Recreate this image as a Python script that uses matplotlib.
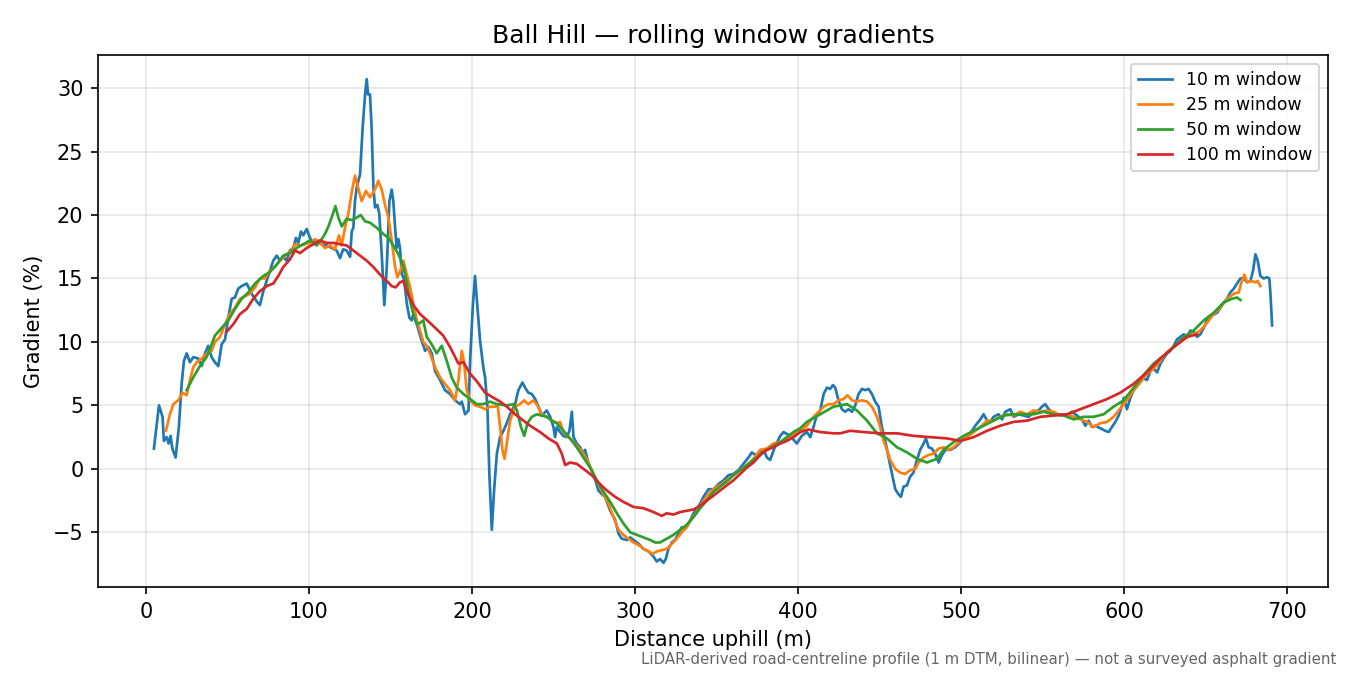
import matplotlib
matplotlib.use("Agg")
import matplotlib.pyplot as plt

# ---- data ----
x10 = [4.9, 8, 10.2, 11, 12.7, 13.9, 15.1, 16.2, 18.2, 20.2, 21.9, 23.3, 25, 27, 29, 32, 34.2, 36.2, 38.2,
       40.3, 42.3, 44.4, 46.4, 48.5, 50.5, 52.6, 54.6, 56.6, 58.7, 61.8, 64.8, 67.9, 69.9, 72, 74, 76, 78.1,
       80.2, 82.2, 84.2, 86.3, 88.3, 90.4, 92, 93.4, 95.1, 96.5, 98.6, 100.6, 102.6, 104.7, 107.8, 110.9,
       113.9, 117, 119, 121, 123.1, 125.2, 126.2, 127.2, 128.2, 129.3, 131.3, 132.9, 134.4, 135.4, 136.2,
       137.4, 138.4, 139.5, 140.5, 141.9, 143.1, 144.6, 146.2, 147.7, 149.3, 150.7, 151.7, 152.8, 153.8,
       154.8, 155.8, 156.9, 157.9, 158.9, 160, 161.6, 163, 164, 166.1, 169.1, 171.2, 173.2, 175.3, 177.3,
       180.4, 183.4, 186.5, 189.6, 192.6, 193.7, 195.7, 197.8, 198.8, 200.4, 201.8, 203.3, 204.9, 206.9,
       208, 209.4, 210.6, 212.1, 213.5, 215.2, 217.2, 219.2, 221.3, 223.3, 226.4, 228.4, 230.9, 232.5,
       234.5, 236.6, 238.7, 240.7, 242.8, 245.8, 247.9, 249.9, 250.9, 252, 254, 256, 258.1, 259.7, 261.2,
       262.2, 264.2, 266.3, 267.9, 269.3, 271.4, 274.4, 277.5, 279.6, 281.6, 284.7, 287.7, 289.8, 291.8,
       294.9, 297, 299, 302.1, 305.1, 308.2, 311.2, 313.3, 315.3, 317.4, 318.8, 320.4, 322.5, 324.5,
       326.6, 328.6, 330.7, 332.8, 335.8, 338.8, 341.9, 345, 348.1, 351.1, 354.2, 357.2, 360.3, 363.4,
       366.4, 369.5, 371.6, 373.6, 376.7, 378.7, 380.8, 382.8, 385.9, 389, 391, 395.1, 399.2, 402.2,
       405.3, 407.4, 409.4, 411.5, 413.5, 415.6, 417.6, 419.6, 421.3, 422.7, 424.7, 426.8, 428.8, 430.9,
       433, 435, 437, 439.1, 441.1, 443.1, 445.2, 447.2, 449.3, 451.3, 453.4, 455.4, 457.5, 459.5, 461.5,
       463, 464.6, 466.7, 468.7, 470.7, 472.8, 474.8, 476.9, 478.3, 480, 482, 484, 486.1, 488.2, 490.2,
       493.3, 496.3, 499.4, 502.5, 505.5, 508.6, 511.7, 513.7, 515.8, 517.8, 519.8, 522.9, 525, 527,
       530.1, 532.1, 535.2, 538.2, 541.3, 544.4, 547.4, 549.5, 551.5, 553.6, 555.6, 558.7, 561.8, 564.8,
       567.9, 571, 574, 576.1, 578.1, 580.2, 582.2, 585.3, 588.3, 590.4, 592.4, 594.5, 596.5, 598.6,
       599.6, 601.6, 603.7, 605.7, 608.8, 610.8, 613.9, 616, 618, 620.1, 622.1, 624.1, 626.2, 628.2,
       630.3, 632.3, 634.4, 636.4, 638.5, 640.5, 642.5, 644.6, 646.6, 648.7, 650.7, 653.8, 656.9, 658.9,
       660.9, 663, 665, 667.1, 669.1, 671.2, 673.2, 675.3, 677.3, 678.9, 680.4, 681.8, 683.4, 685.5,
       687.5, 688.9, 689.6, 690.6]
y10 = [1.6, 5.0, 4.1, 2.2, 2.5, 2.0, 2.6, 1.6, 0.9, 3.3, 6.7, 8.5, 9.1, 8.4, 8.8, 8.7, 8.1, 9.1, 9.7,
       8.8, 8.4, 8.1, 9.8, 10.2, 11.9, 13.4, 13.5, 14.2, 14.4, 14.6, 13.8, 13.2, 12.9, 14.0, 14.8, 15.6, 16.4,
       16.8, 16.4, 16.7, 16.4, 17.2, 17.4, 18.2, 17.8, 18.7, 18.4, 18.9, 18.2, 17.8, 18.0, 17.7, 17.6,
       17.4, 17.2, 16.6, 17.3, 17.2, 16.7, 18.7, 19.0, 21.1, 22.2, 23.2, 26.9, 29.5, 30.7, 29.5,
       29.5, 26.9, 22.2, 20.6, 20.8, 20.1, 16.9, 12.9, 15.9, 21.1, 22.0, 21.1, 19.0, 17.4,
       18.1, 17.4, 15.3, 15.1, 14.3, 13.0, 11.9, 11.7, 12.2, 11.4, 10.1, 9.3, 9.6, 9.1, 7.7,
       7.0, 6.2, 5.9, 5.4, 5.1, 5.3, 4.3, 4.6, 8.5, 12.7, 15.2, 12.7, 10.1, 8.0,
       7.2, 4.9, -0.4, -4.8, -1.7, 1.2, 2.5, 3.0, 3.6, 4.3, 5.1, 6.2, 6.8, 6.4,
       6.0, 5.9, 5.5, 4.9, 4.2, 4.6, 4.1, 3.3, 2.5, 3.3, 2.9, 2.6, 2.5, 3.0, 4.5,
       2.5, 2.0, 1.7, 1.2, 1.5, 0.4, -0.4, -1.7, -2.0, -2.2, -3.3, -4.0, -5.1, -5.5,
       -5.6, -5.4, -5.6, -5.9, -6.3, -6.5, -6.9, -7.3, -7.1, -7.4, -7.1, -6.3, -5.8, -5.6,
       -5.1, -4.6, -4.7, -4.3, -3.5, -3.0, -2.2, -1.6, -1.6, -1.2, -0.9, -0.5, -0.4, -0.1,
       0.4, 0.9, 1.3, 1.1, 1.2, 1.5, 0.9, 0.7, 1.8, 2.6, 2.9, 2.6, 2.0, 2.6,
       2.9, 2.5, 3.3, 4.3, 4.6, 5.9, 6.4, 6.3, 6.6, 6.4, 5.4, 4.7, 4.5, 4.7,
       4.5, 5.0, 5.9, 6.3, 6.2, 6.3, 5.9, 5.3, 4.9, 3.3, 2.2, 0.9, -0.4, -1.6, -2.0,
       -2.2, -1.4, -1.3, -0.6, -0.3, 0.7, 1.5, 2.0, 2.4, 1.7, 1.6, 1.2, 0.5, 1.1, 1.5,
       1.5, 1.7, 2.1, 2.5, 2.8, 3.4, 3.9, 4.3, 3.8, 3.7, 4.1, 4.3, 3.9, 4.5,
       4.7, 4.1, 4.3, 4.2, 4.1, 4.5, 4.6, 4.9, 5.1, 4.7, 4.5, 4.3, 4.3, 4.2,
       4.5, 4.2, 3.9, 3.4, 3.8, 3.3, 3.4, 3.2, 3.0, 2.9, 3.3, 3.7, 4.2, 5.0,
       5.6, 4.7, 5.6, 6.2, 6.7, 7.2, 7.0, 7.7, 7.9, 7.6, 8.3, 8.7, 9.1, 9.3,
       9.7, 10.2, 10.4, 10.6, 10.4, 10.9, 10.8, 10.4, 10.6, 11.1, 11.7, 12.1, 12.3, 12.7,
       13.1, 13.4, 13.9, 14.2, 14.6, 15.0, 15.0, 14.7, 14.8, 15.6, 16.9, 16.4, 15.2, 15.0,
       15.1, 15.0, 13.8, 11.3]

x25 = [12.3, 14.7, 16.8, 19.8, 22.5, 25, 27, 29, 31.1, 34.2, 37.2, 40.3, 42.3, 45.4, 48.5, 51.5, 54.6,
       57.7, 60.7, 63.8, 66.9, 69.9, 73, 76, 79.1, 82.2, 86.3, 89.4, 91.4, 94.5, 97.5, 100.6, 103.7,
       106.7, 109.8, 112.9, 115.9, 118.4, 120, 122.1, 124.1, 126.2, 128.2, 129.6, 132.3, 134.9, 137.4,
       139.5, 141.1, 142.5, 144.6, 146.6, 148.7, 150.7, 152.8, 154.2, 156.2, 157.9, 160, 162, 164, 166.1,
       168.1, 170.1, 172.2, 174.2, 177.3, 180.4, 183.4, 186.5, 189.6, 191.6, 193.7, 195.1, 196.7, 198.8,
       201.8, 204.9, 208, 211, 214.1, 215.7, 217.2, 218.6, 219.9, 221.3, 223.3, 226.4, 229.4, 231.9,
       234.5, 237.6, 240, 242.8, 245.8, 248.9, 252, 254, 256, 259.1, 262.2, 265.2, 268.3, 271.4, 274.4,
       277.5, 280.6, 283.6, 286.7, 289.8, 292.8, 295.9, 299, 302.1, 305.1, 308.2, 310.8, 313.3, 316.3,
       319.4, 322.5, 325.5, 328.6, 331.7, 334.7, 337.8, 340.9, 343.9, 347, 350.1, 353.1, 356.2, 360.3,
       364.4, 368.5, 372.6, 376.7, 380.8, 384.8, 389, 395.1, 401.2, 405.3, 409.4, 412.5, 415.6, 418.6,
       421.7, 424.7, 427.8, 430.2, 433, 436, 439.1, 442.2, 445.2, 448.3, 450.3, 452.4, 454.4, 456.4,
       459.5, 462.6, 465.6, 468.7, 471.8, 473.8, 476.9, 480, 483, 486.1, 489.1, 492.2, 495.3, 499.4,
       503.5, 507.6, 511.7, 515.8, 519.8, 523.9, 528, 532.1, 536.2, 540.3, 544.4, 548.5, 552.6, 556.6,
       560.7, 564.8, 568.9, 573, 577.1, 581.2, 585.3, 589.4, 593.4, 596.5, 599.6, 602.6, 605.7, 609.8,
       613.9, 618, 622.1, 626.2, 630.3, 634.4, 638.5, 642.5, 646.6, 650.7, 654.8, 658.9, 663, 667.1,
       670.1, 671.6, 673.6, 675.3, 677.3, 680.4, 681.8, 683.4]
y25 = [3.0, 4.3, 5.1, 5.4, 6.0, 5.8, 7.0, 8.0, 8.4, 8.7, 9.1, 9.3, 10.0, 10.4, 11.4, 12.2, 12.7,
       13.4, 13.6, 13.8, 14.3, 15.0, 15.0, 15.6, 15.9, 16.4, 16.9, 17.2, 17.7, 17.6, 17.7, 17.8, 18.1,
       17.8, 17.4, 17.6, 17.3, 18.4, 17.6, 19.0, 20.1, 21.8, 23.1, 22.4, 21.1, 21.9, 21.4,
       21.8, 22.2, 22.7, 22.0, 20.8, 19.8, 18.0, 15.9, 15.1, 15.7, 16.4, 15.3, 14.3, 13.0, 11.7,
       10.9, 10.0, 9.7, 9.1, 8.0, 7.2, 6.7, 6.2, 5.4, 7.0, 9.3, 8.4, 6.2, 5.4,
       5.0, 4.9, 4.7, 4.9, 4.9, 5.0, 3.3, 1.5, 0.8, 2.0, 3.8, 4.9, 5.1, 5.4,
       5.1, 5.4, 5.0, 4.3, 4.1, 3.8, 3.6, 3.7, 2.9, 2.5, 2.1, 1.7, 1.2, 0.5, -0.4,
       -1.2, -2.0, -2.7, -3.8, -4.8, -5.2, -5.5, -5.8, -6.0, -6.3, -6.5, -6.7, -6.5, -6.4,
       -6.3, -5.9, -5.5, -5.0, -4.6, -3.9, -3.4, -2.7, -2.2, -1.7, -1.4, -1.2, -0.9, -0.5,
       -0.1, 0.3, 0.8, 1.5, 1.6, 2.0, 2.1, 2.5, 3.0, 3.4, 4.1, 4.5, 4.9, 5.1,
       5.1, 5.4, 5.5, 5.8, 5.4, 5.3, 5.4, 5.3, 4.9, 4.1, 3.3, 2.2, 1.5, 0.7,
       0.0, -0.3, -0.4, -0.1, 0.0, 0.5, 0.9, 1.1, 1.2, 1.6, 1.7, 1.5, 1.7, 2.2,
       2.5, 2.9, 3.3, 3.8, 3.8, 4.1, 4.3, 4.2, 4.5, 4.3, 4.6, 4.5, 4.6, 4.5,
       4.2, 4.3, 4.1, 3.9, 3.7, 3.3, 3.6, 3.7, 4.1, 4.6, 5.1, 5.6, 6.2, 6.8,
       7.5, 7.9, 8.5, 9.2, 9.6, 10.0, 10.4, 10.6, 10.9, 11.5, 12.2, 12.7, 13.4, 13.8,
       13.9, 14.6, 15.3, 14.7, 14.8, 14.7, 14.8, 14.4]

x50 = [25, 29, 33.1, 37.2, 40.3, 42.3, 46.4, 50.5, 54.6, 58.7, 62.8, 66.9, 72, 76, 80.2, 84.2, 88.3,
       92.4, 96.5, 100.6, 104.7, 107.8, 109.8, 111.9, 113.9, 116.2, 118, 120.1, 123.1, 126.2, 129.3,
       131.7, 134.4, 137.4, 141.5, 145.6, 148.7, 151.7, 154.8, 157.9, 160, 162, 164, 166.1, 168.1,
       170.1, 172.2, 175.3, 178.3, 181.4, 184.5, 187.5, 190.6, 194.7, 198.8, 202.9, 206.9, 211,
       215.2, 221.3, 225.4, 227.5, 230, 232, 234, 236.6, 239.7, 242.8, 245.8, 248.9, 252, 256, 260.1,
       264.2, 268.3, 272.4, 276.5, 280.6, 284.7, 288.8, 292.8, 297, 301.1, 305.1, 309.2, 312.3, 315.3,
       319.4, 323.5, 327.6, 331.7, 335.8, 339.9, 343.9, 348.1, 352.1, 356.2, 360.3, 364.4, 368.5, 372.6,
       376.7, 380.8, 384.8, 389, 393, 397.1, 401.2, 405.3, 413.5, 421.7, 429.9, 436, 442.2, 448.3,
       454.4, 460.6, 466.7, 472.8, 479, 485.1, 489.1, 495.3, 501.4, 507.6, 513.7, 519.8, 526, 532.1,
       538.2, 544.4, 550.5, 556.6, 562.8, 568.9, 575, 581.2, 587.3, 593.4, 599.6, 605.7, 611.8, 618,
       624.1, 630.3, 636.4, 642.5, 648.7, 654.8, 660.9, 666, 669.1, 671.2]
y50 = [6.2, 7.2, 8.1, 8.8, 9.8, 10.5, 11.1, 11.7, 12.6, 13.4, 13.9, 14.6, 15.2, 15.5, 16.1, 16.8, 17.0,
       17.4, 17.7, 18.0, 17.6, 18.1, 18.5, 19.1, 19.8, 20.7, 19.8, 19.1, 19.7, 19.6, 19.8,
       20.0, 19.5, 19.4, 19.0, 18.5, 18.2, 17.6, 16.9, 16.0, 14.6, 13.2, 12.2, 11.4, 11.5,
       11.7, 10.4, 9.8, 9.1, 9.7, 8.5, 7.2, 6.4, 5.9, 5.5, 5.1, 5.1, 5.3,
       5.1, 5.0, 5.1, 4.6, 3.3, 2.6, 3.6, 4.1, 4.3, 4.2, 4.1, 3.8, 3.6, 3.0, 2.4,
       1.7, 0.9, 0.1, -0.9, -1.8, -2.6, -3.5, -4.3, -5.0, -5.2, -5.4, -5.6, -5.8, -5.8,
       -5.5, -5.2, -4.8, -4.4, -3.8, -3.1, -2.5, -1.8, -1.4, -1.0, -0.5, -0.1, 0.3, 0.7,
       1.1, 1.5, 1.8, 2.1, 2.5, 2.9, 3.2, 3.7, 4.3, 4.9, 5.1, 4.6, 3.8, 2.8,
       2.4, 1.7, 1.3, 0.8, 0.5, 0.8, 1.5, 2.1, 2.6, 3.0, 3.4, 3.8, 4.2, 4.3,
       4.3, 4.3, 4.5, 4.3, 4.2, 3.9, 4.1, 4.1, 4.3, 4.9, 5.4, 6.4, 7.4, 8.3,
       8.9, 9.6, 10.4, 10.9, 11.7, 12.3, 13.1, 13.4, 13.5, 13.3]

x100 = [49.5, 53.6, 57.7, 61.8, 65.8, 69.9, 74, 78.1, 81.2, 84.2, 88.3, 91.4, 94.5, 98.6, 102.6, 106.7,
        110.9, 114.9, 119, 123.1, 127.2, 131.3, 135.4, 139.5, 143.6, 147.7, 150.7, 153.2, 155.8, 157.9,
        160, 164, 168.1, 174.2, 178.3, 182.3, 186.5, 191.6, 194.7, 198.8, 202.9, 208, 213.1, 217.2,
        221.3, 226.4, 231.5, 235.6, 241.7, 246.8, 252, 255, 257.1, 260.1, 264.2, 268.3, 273.4, 278.5,
        282.6, 287.7, 292.8, 299, 305.1, 311.2, 316.3, 319.4, 323.5, 327.6, 331.7, 335.8, 339.9, 343.9,
        348.1, 352.1, 356.2, 360.3, 364.4, 368.5, 372.6, 376.7, 380.8, 384.8, 389, 393, 397.1, 401.2,
        406.3, 413.5, 421.7, 425.8, 431.9, 440.1, 450.3, 460.6, 470.7, 481, 491.2, 499.4, 507.6, 515.8,
        523.9, 532.1, 540.3, 548.5, 556.6, 564.8, 573, 581.2, 589.4, 597.5, 605.7, 613.9, 622.1, 630.3,
        638.5, 644.6]
y100 = [10.8, 11.4, 12.2, 12.6, 13.4, 14.0, 14.4, 14.6, 15.2, 15.9, 16.5, 17.2, 17.0, 17.4, 17.7, 18.0,
        17.8, 17.8, 17.7, 17.6, 17.2, 16.8, 16.4, 15.9, 15.3, 14.8, 14.4, 14.3, 14.7, 14.8,
        14.0, 12.9, 12.2, 11.5, 11.0, 10.5, 9.6, 8.3, 8.4, 7.5, 6.9, 6.0, 5.6, 5.3,
        4.9, 4.3, 3.8, 3.4, 2.9, 2.4, 2.0, 1.2, 0.3, 0.5, 0.4, 0.0, -0.5, -1.2,
        -1.7, -2.2, -2.6, -3.0, -3.1, -3.4, -3.7, -3.5, -3.6, -3.4, -3.3, -3.2, -2.9, -2.5,
        -2.1, -1.7, -1.3, -0.9, -0.4, 0.1, 0.5, 1.1, 1.5, 1.7, 2.0, 2.2, 2.5, 2.9,
        3.1, 2.9, 2.8, 2.8, 3.0, 2.9, 2.8, 2.8, 2.6, 2.5, 2.4, 2.2, 2.5, 3.0,
        3.4, 3.7, 3.8, 4.1, 4.2, 4.3, 4.7, 5.1, 5.5, 6.0, 6.7, 7.6, 8.7, 9.6,
        10.4, 10.6]

series = [
    (x10, y10, "10 m window", "#1f77b4"),
    (x25, y25, "25 m window", "#ff7f0e"),
    (x50, y50, "50 m window", "#2ca02c"),
    (x100, y100, "100 m window", "#d62728"),
]

fig, ax = plt.subplots(figsize=(9, 4.5), dpi=150)
fig.subplots_adjust(left=0.0726, right=0.9837, top=0.9185, bottom=0.1304)

for xs, ys, lab, col in series:
    ax.plot(xs, ys, color=col, lw=1.3, label=lab)

ax.set_title("Ball Hill \u2014 rolling window gradients", fontsize=12)
ax.set_xlabel("Distance uphill (m)", fontsize=10)
ax.set_ylabel("Gradient (%)", fontsize=10)
ax.grid(True, alpha=0.3)
ax.legend(loc="upper right", fontsize=8.3, labelspacing=0.42)
ax.set_xticks([0, 100, 200, 300, 400, 500, 600, 700])
ax.set_yticks([-5, 0, 5, 10, 15, 20, 25, 30])

fig.text(0.99, 0.012,
         "LiDAR-derived road-centreline profile (1 m DTM, bilinear) \u2014 not a surveyed asphalt gradient",
         ha="right", va="bottom", fontsize=7.2, color="#666666")

fig.savefig("out.png", dpi=150)
